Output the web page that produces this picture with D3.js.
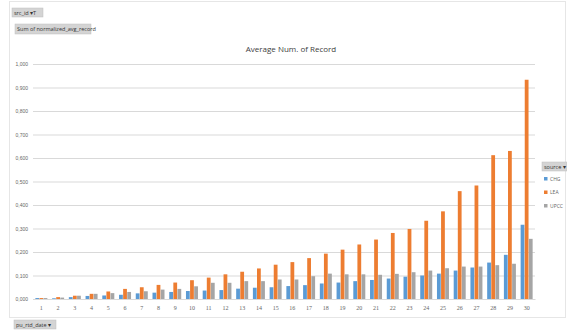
<!DOCTYPE html>
<html>
<head>
<meta charset="utf-8">
<script src="https://cdn.jsdelivr.net/npm/d3@7"></script>
<style>
  html, body { margin: 0; padding: 0; background: #fff; }
  svg { display: block; font-family: "Open Sans", "Liberation Sans", sans-serif; }
</style>
</head>
<body>
<svg id="chart" width="567" height="331"></svg>
<script>
// Pivot chart: average number of records per day, by source
const categories = d3.range(1, 31).map(String);
const seriesNames = ["CHG", "LEA", "UPCC"];
const chgValues = [0.004, 0.003, 0.008, 0.013, 0.015, 0.018, 0.024, 0.027, 0.030, 0.034,
                   0.036, 0.038, 0.044, 0.048, 0.050, 0.055, 0.059, 0.066, 0.070, 0.076,
                   0.081, 0.087, 0.095, 0.100, 0.108, 0.121, 0.134, 0.155, 0.188, 0.316];
const leaValues = [0.004, 0.008, 0.014, 0.022, 0.032, 0.043, 0.050, 0.060, 0.070, 0.080,
                   0.091, 0.105, 0.116, 0.130, 0.146, 0.157, 0.174, 0.193, 0.210, 0.232,
                   0.253, 0.281, 0.298, 0.333, 0.373, 0.459, 0.483, 0.612, 0.630, 0.933];
const upccValues = [0.004, 0.006, 0.014, 0.022, 0.025, 0.030, 0.033, 0.040, 0.043, 0.054,
                    0.069, 0.069, 0.076, 0.076, 0.083, 0.083, 0.097, 0.108, 0.105, 0.105,
                    0.103, 0.107, 0.114, 0.121, 0.131, 0.138, 0.138, 0.144, 0.150, 0.256];
const yTicks = [0, 0.1, 0.2, 0.3, 0.4, 0.5, 0.6, 0.7, 0.8, 0.9, 1.0];
const colors = ["#5b9bd5", "#ed7d31", "#a5a5a5"];

const series = [chgValues, leaValues, upccValues];
const svg = d3.select("#chart");

const plot = { left: 33, right: 535, top: 64, bottom: 299 };
const groupWidth = 12;

const x = d3.scaleBand().domain(categories).range([plot.left, plot.right]).paddingInner(0).paddingOuter(0);
const xSub = d3.scaleBand().domain(seriesNames).range([0, groupWidth]).paddingInner(0.08);
const xOffset = (x.bandwidth() - groupWidth) / 2;
const y = d3.scaleLinear().domain([0, 1]).range([plot.bottom, plot.top]);

// outer chart frame
svg.append("rect")
  .attr("x", 9.5).attr("y", 1.5).attr("width", 556).attr("height", 316)
  .attr("fill", "none").attr("stroke", "#e6e6e6");

// field buttons
function fieldButton(bx, by, w, h, label) {
  svg.append("rect").attr("x", bx).attr("y", by).attr("width", w).attr("height", h)
    .attr("fill", "#d4d4d4").attr("stroke", "#bfbfbf").attr("stroke-width", 0.5);
  svg.append("text").attr("x", bx + 2).attr("y", by + h / 2 + 2)
    .attr("font-size", 5.5).attr("fill", "#333").text(label);
}
fieldButton(12, 8, 31, 9, "src_id ▾T");
fieldButton(15, 24, 76, 10, "Sum of normalized_avg_record");
fieldButton(14, 320, 42, 9, "pu_rtd_date ▾");
fieldButton(542, 162, 25, 9, "source ▾");

// title
svg.append("text").attr("x", 291).attr("y", 52).attr("text-anchor", "middle")
  .attr("font-size", 8).attr("fill", "#404040").text("Average Num. of Record");

// gridlines and y axis
const yAxis = d3.axisLeft(y).tickValues(yTicks)
  .tickSize(-(plot.right - plot.left)).tickPadding(5)
  .tickFormat(d => d3.format(".3f")(d).replace(".", ","));
const gy = svg.append("g").attr("transform", `translate(${plot.left},0)`).call(yAxis);
gy.select(".domain").remove();
gy.selectAll(".tick line").attr("stroke", "#d9d9d9").attr("stroke-width", 1);
gy.selectAll(".tick text").attr("font-size", 5).attr("fill", "#666");

// bars
const groups = svg.append("g").selectAll("g").data(categories).join("g")
  .attr("transform", d => `translate(${x(d) + xOffset},0)`);
groups.selectAll("rect")
  .data((d, i) => series.map((s, k) => ({ name: seriesNames[k], v: s[i], k })))
  .join("rect")
  .attr("x", d => xSub(d.name))
  .attr("width", xSub.bandwidth())
  .attr("y", d => y(d.v))
  .attr("height", d => y(0) - y(d.v))
  .attr("fill", d => colors[d.k]);

// x axis
const xAxis = d3.axisBottom(x).tickSize(0).tickPadding(7);
const gx = svg.append("g").attr("transform", `translate(0,${plot.bottom})`).call(xAxis);
gx.select(".domain").attr("stroke", "#d9d9d9");
gx.selectAll(".tick text").attr("font-size", 6).attr("fill", "#666")
  .attr("font-family", "'Liberation Serif', serif");

// legend
const legend = svg.append("g").selectAll("g").data(seriesNames).join("g")
  .attr("transform", (d, i) => `translate(544,${179 + i * 13.5})`);
legend.append("rect").attr("x", 0).attr("y", -2).attr("width", 3.5).attr("height", 3.5)
  .attr("fill", (d, i) => colors[i]);
legend.append("text").attr("x", 6).attr("y", 1.8).attr("font-size", 5)
  .attr("fill", "#666").text(d => d);
</script>
</body>
</html>
